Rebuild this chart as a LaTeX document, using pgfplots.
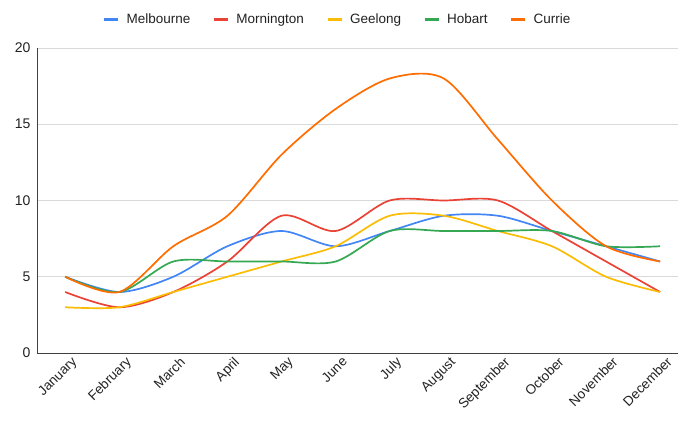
\documentclass[border=0pt]{standalone}
\usepackage{pgfplots}
\pgfplotsset{compat=1.18}
\usepackage{fontspec}
\setmainfont{Liberation Sans}
\definecolor{cblue}{HTML}{4285F4}
\definecolor{cred}{HTML}{EA4335}
\definecolor{cyellow}{HTML}{FBBC04}
\definecolor{cgreen}{HTML}{34A853}
\definecolor{corange}{HTML}{FF6D01}
\definecolor{tcol}{HTML}{222222}
\begin{document}
\begin{tikzpicture}
\begin{axis}[
  name=ax,
  scale only axis,
  width=641pt, height=305pt,
  xmin=-0.52, xmax=11.33,
  ymin=0, ymax=20,
  ytick={0,5,10,15,20},
  xtick={0,...,11},
  xticklabels={January,February,March,April,May,June,July,August,September,October,November,December},
  x tick label style={rotate=45, anchor=north east, font=\fontsize{13.5}{15}\selectfont, text=tcol, inner sep=1pt, yshift=-5pt, xshift=3pt},
  y tick label style={font=\fontsize{14}{16}\selectfont, text=tcol, xshift=-3pt},
  /pgf/number format/assume math mode=true,
  major tick length=0pt,
  ymajorgrids, grid style={draw=black!15, line width=0.8pt},
  axis x line*=bottom, axis y line*=left,
  axis line style={draw=black!75, line width=0.9pt, -},
  every axis plot/.append style={line width=1.7pt, smooth, no markers},
  legend columns=-1,
  legend style={at={(0.5,1)}, anchor=south, yshift=19pt, xshift=-20pt, draw=none, fill=none,
    font=\fontsize{13.5}{15}\selectfont, text=tcol,
    /tikz/every odd column/.append style={column sep=5pt},
    /tikz/every even column/.append style={column sep=20pt}},
  legend image code/.code={\draw[line width=3pt] (0pt,0pt) -- (14pt,0pt);},
]
\addplot[cblue] coordinates {(0,5)(1,4)(2,5)(3,7)(4,8)(5,7)(6,8)(7,9)(8,9)(9,8)(10,7)(11,6)};
\addlegendentry{Melbourne}
\addplot[cred] coordinates {(0,4)(1,3)(2,4)(3,6)(4,9)(5,8)(6,10)(7,10)(8,10)(9,8)(10,6)(11,4)};
\addlegendentry{Mornington}
\addplot[cyellow] coordinates {(0,3)(1,3)(2,4)(3,5)(4,6)(5,7)(6,9)(7,9)(8,8)(9,7)(10,5)(11,4)};
\addlegendentry{Geelong}
\addplot[cgreen] coordinates {(0,5)(1,4)(2,6)(3,6)(4,6)(5,6)(6,8)(7,8)(8,8)(9,8)(10,7)(11,7)};
\addlegendentry{Hobart}
\addplot[corange] coordinates {(0,5)(1,4)(2,7)(3,9)(4,13)(5,16)(6,18)(7,18)(8,14)(9,10)(10,7)(11,6)};
\addlegendentry{Currie}
\end{axis}
\path[use as bounding box] ([xshift=-37pt,yshift=-68pt]ax.south west) rectangle ([xshift=8pt,yshift=48pt]ax.north east);
\end{tikzpicture}
\end{document}
